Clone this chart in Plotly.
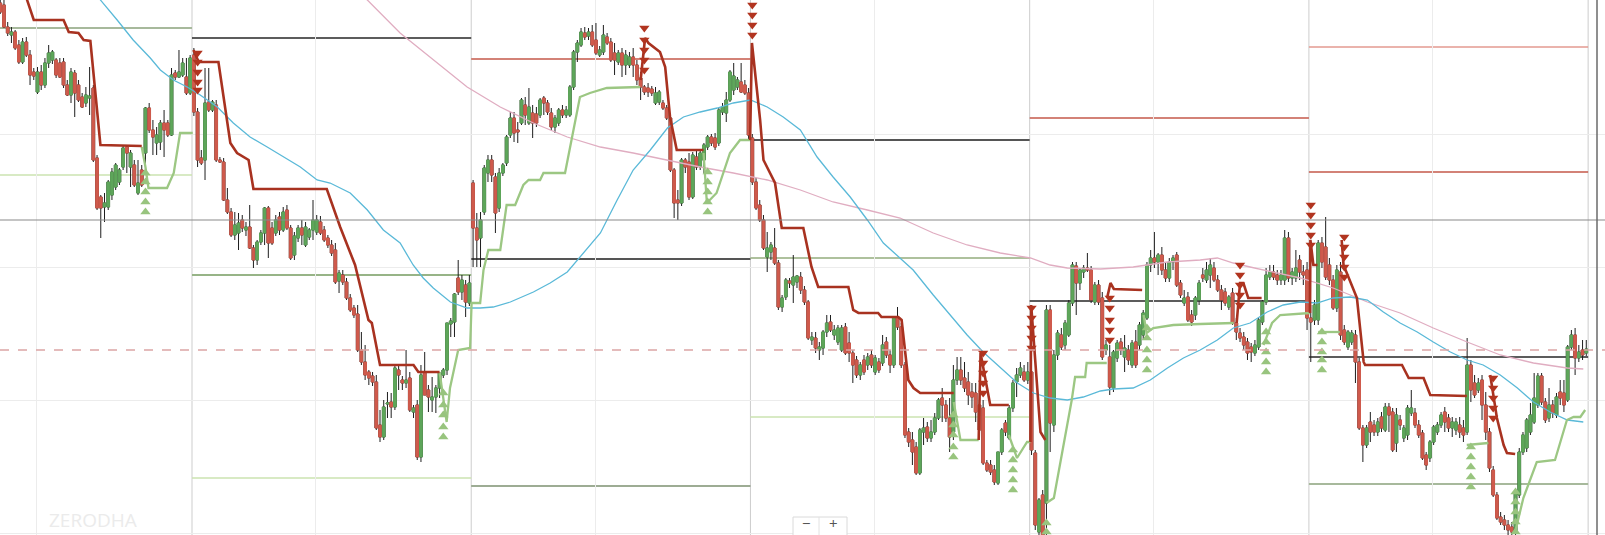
import plotly.graph_objects as go

# ---------------- candles per session: (open, high, low, close) ----------------
day0 = [
 (997,1005,986,988),(995,1003,972,973),(973,978,964,967),(965,973,957,968),(968,970,950,952),
 (955,960,936,938),(938,962,936,958),(958,963,943,945),(945,950,915,925),(928,932,920,924),
 (908,933,906,928),(928,935,910,915),(915,942,912,937),(937,955,932,947),(940,950,936,948),
 (940,942,922,925),(937,942,922,923),(938,942,912,915),(915,920,904,905),(905,932,897,928),
 (927,930,883,907),(915,920,898,900),(903,907,892,893),(897,913,893,905),(902,933,885,904),
 (912,915,838,840),(842,845,790,792),(803,805,762,792),(793,807,778,797),(793,820,790,818),
 (805,832,800,828),(813,837,810,835),(818,832,815,830),(833,855,830,852),(853,855,827,847),
 (833,850,813,847),(835,840,813,815),(807,840,805,817),(830,835,813,815),(847,893,827,892),
 (892,897,867,870),(870,880,845,863),(857,873,845,865),(858,880,850,877),(877,890,843,870),
 (877,880,863,865),(865,932,864,925),(927,930,920,923),(923,950,922,928),(925,942,923,937),
 (923,942,905,907),(907,945,905,942)]
day1 = [
 (945,952,884,888),(888,892,833,840),(842,850,835,837),(840,932,820,897),(898,932,888,890),
 (890,900,888,898),(895,900,838,840),(840,843,837,838),(838,842,799,800),(800,812,786,788),
 (788,792,763,765),(765,788,760,775),(767,787,750,777),(780,785,768,772),(770,778,764,773),
 (773,795,751,752),(752,755,732,740),(740,760,735,758),(758,770,755,767),(767,793,755,792),
 (792,794,742,757),(772,778,755,757),(767,785,764,780),(783,788,765,770),(770,793,768,788),
 (790,795,770,772),(772,775,740,742),(745,768,740,764),(762,775,758,772),(772,780,755,765),
 (755,778,753,773),(763,772,760,770),(770,800,760,780),(768,785,765,780),(778,784,765,767),
 (770,774,758,760),(762,765,752,755),(755,760,744,747),(750,757,716,718),(719,730,707,727),
 (725,730,715,718),(718,722,700,702),(702,706,688,690),(692,695,682,685),(686,695,648,650),
 (650,668,635,638),(638,655,620,625),(628,630,615,622),(624,628,614,618),(618,625,570,572),
 (575,590,558,563),(563,600,560,593),(596,608,582,597),(598,607,582,593),(593,634,590,632),
 (630,634,610,625),(620,624,610,617),(617,650,612,620),(622,628,588,590),(588,595,582,592),
 (595,600,540,543),(543,635,538,625),(628,648,605,605),(610,615,588,603),(600,623,588,603),
 (603,615,587,612),(612,628,602,627),(625,632,622,630),(630,677,625,677),(676,682,663,679),
 (678,707,663,706),(722,740,705,708),(708,725,700,720),(715,720,683,698),(697,725,694,717)]
day2 = [
 (817,820,733,772),(772,787,733,760),(762,788,733,780),(788,835,785,832),(827,845,818,840),
 (840,845,818,825),(823,827,767,787),(792,832,788,827),(827,837,824,835),(837,865,834,863),
 (865,888,862,882),(882,888,858,867),(870,878,857,868),(877,902,875,900),(895,903,875,885),
 (877,912,875,893),(887,895,862,877),(886,893,873,877),(885,902,882,900),(902,904,885,897),
 (897,900,885,888),(887,892,870,873),(873,885,867,882),(877,892,874,890),(890,895,882,885),
 (885,894,882,890),(885,915,883,913),(913,950,910,948),(948,960,938,957),(955,972,953,968),
 (967,973,960,963),(964,972,960,968),(968,975,953,955),(960,977,945,947),(945,954,943,950),
 (948,975,945,965),(963,967,955,957),(958,962,938,940),(947,957,925,940),(938,950,935,947),
 (947,952,923,935),(935,950,925,945),(935,948,932,943),(943,952,923,935),(935,940,915,920),
 (922,928,900,913),(913,915,905,908),(912,917,903,908),(911,914,904,907),(897,913,895,907),
 (898,910,895,908),(897,900,890,892),(892,895,880,882),(882,885,828,830),(830,832,782,797),
 (800,810,780,797),(797,842,794,840),(840,842,827,833),(838,847,800,803),(803,848,801,845),
 (843,850,830,833),(833,850,830,847),(840,857,827,855),(853,865,850,863),(863,866,854,857),
 (862,867,850,853),(857,892,854,890),(888,897,885,893),(887,908,878,900),(900,930,898,928),
 (910,937,905,924),(913,923,910,920),(918,937,907,908),(915,920,905,907),(907,912,860,865)]
day3 = [
 (862,866,815,818),(818,822,790,792),(795,800,778,780),(780,785,750,752),(743,768,728,752),
 (748,758,740,755),(752,772,735,737),(737,740,690,693),(693,705,688,702),(703,722,700,720),
 (719,722,712,717),(715,745,697,723),(718,725,712,724),(723,728,706,710),(710,714,695,698),
 (698,700,660,662),(660,668,655,663),(662,668,647,652),(650,658,640,653),(652,670,645,668),
 (668,685,663,677),(678,685,668,670),(665,675,660,670),(658,675,655,672),(650,675,648,672),
 (673,677,645,647),(657,668,638,647),(647,650,617,635),(640,644,622,625),(625,638,620,635),
 (640,645,625,628),(635,647,630,643),(645,650,632,635),(628,645,625,642),(638,642,627,630),
 (637,665,634,655),(658,663,642,645),(645,650,627,635),(635,682,632,682),(682,693,670,673),
 (673,677,632,635),(635,638,562,565),(568,572,553,558),(560,568,535,548),(553,558,525,527),
 (527,572,525,570),(568,582,555,572),(573,578,558,562),(562,580,558,568),(568,587,565,582),
 (582,602,580,600),(602,612,578,595),(595,600,578,582),(582,602,548,563),(568,635,560,620),
 (620,643,615,630),(630,643,615,620),(622,638,608,612),(618,628,595,605),(608,617,592,603),
 (607,617,578,588),(595,600,568,570),(592,600,535,537),(537,540,528,530),(535,540,525,528),
 (530,535,515,518),(517,548,515,548),(548,572,545,570),(577,580,564,568),(562,595,560,592),
 (592,620,588,617),(618,632,603,625),(625,638,622,632),(628,635,618,620),(620,638,616,628)]
day4 = [
 (628,640,545,550),(547,550,470,475),(468,502,465,500),(505,510,460,465),(497,695,465,690),
 (690,695,548,577),(575,650,568,645),(645,670,640,667),(665,672,650,653),(655,680,650,677),
 (665,700,663,697),(697,738,694,735),(734,738,685,717),(717,732,710,730),(728,735,722,732),
 (732,747,728,730),(730,734,697,700),(698,718,695,715),(715,720,695,698),(702,708,640,643),
 (650,660,645,655),(643,655,605,613),(612,650,608,648),(642,660,638,657),(658,662,645,650),
 (643,665,628,652),(650,655,635,640),(635,660,632,657),(658,670,632,635),(655,678,650,675),
 (665,690,660,687),(682,738,680,735),(735,750,728,742),(742,768,732,738),(738,747,725,745),
 (745,753,725,730),(730,738,718,722),(722,742,718,738),(738,745,730,742),(745,748,713,715),
 (717,720,702,705),(697,710,694,702),(703,708,678,680),(685,690,674,678),(685,704,680,702),
 (700,720,695,717),(725,732,718,722),(720,738,717,730),(725,742,712,735),(732,738,718,720),
 (720,725,708,710),(710,715,690,700),(708,712,694,697),(693,705,690,703),(707,712,675,677),
 (677,682,660,668),(667,672,658,662),(663,668,650,655),(658,662,640,647),(653,657,638,648),
 (647,660,644,655),(653,682,650,680),(678,700,675,698),(698,732,695,725),(723,735,720,728),
 (728,735,720,723),(725,730,715,720),(720,730,715,725),(720,770,715,762),(762,768,718,722),
 (722,732,715,728),(722,750,718,732),(740,745,720,728),(728,735,715,725),(730,738,670,682)]
day5 = [
 (682,695,638,678),(680,700,675,695),(680,760,675,757),(757,763,732,738),(753,783,720,723),
 (735,742,715,720),(720,725,690,692),(692,735,688,730),(728,738,660,665),(670,675,655,658),
 (653,670,650,668),(658,670,655,667),(665,670,617,638),(638,642,570,572),(572,575,538,555),
 (555,575,552,572),(578,588,558,568),(575,580,564,568),(568,582,564,578),(583,588,568,572),
 (570,597,568,593),(593,597,568,585),(588,592,548,550),(557,592,548,585),(580,585,570,575),
 (562,575,558,572),(565,595,560,592),(587,610,584,592),(587,592,572,575),(575,580,562,565),
 (567,570,540,542),(545,548,530,535),(542,560,538,558),(558,575,555,573),(568,578,565,575),
 (575,588,572,585),(588,593,568,578),(582,586,568,572),(572,583,563,578),(570,582,565,578),
 (575,583,562,568),(572,580,558,565),(568,662,565,635),(635,640,598,610),(617,625,602,605),
 (610,622,607,617),(620,625,580,595),(595,608,560,568),(568,572,528,532),(530,534,503,505),
 (505,508,480,482),(483,488,475,478),(480,485,470,475),(475,480,465,470),(473,478,460,468),
 (468,510,460,508),(505,552,502,548),(548,568,545,565),(552,582,548,580),(568,597,565,585),
 (578,627,576,602),(595,627,592,624),(624,627,595,598),(598,602,577,580),(582,612,578,595),
 (595,600,582,587),(585,607,582,603),(608,620,595,602),(607,620,588,595),(600,655,598,653),
 (653,670,650,665),(665,672,625,642),(642,655,638,648),(650,660,640,645),(647,660,644,651)]

# ---------------- indicator lines: (bar index, price) ----------------
sma_fast = [(25.5,1010),(26.9,1000),(31.4,980),(35.7,960),(40.3,942),(43,930),(46.5,920),(50.2,913),
 (53.7,905),(58.3,893),(62.6,877),(67.1,863),(71.7,853),(76,843),(80.6,833),(85.1,820),(88.6,817),
 (94,807),(98.6,790),(102.9,770),(107.4,757),(110.9,735),(113.6,722),(116.3,712),(120.9,698),
 (125.4,692),(128.9,692),(132.4,693),(137,698),(143.2,708),(147.7,717),(152.3,728),(153.9,735),
 (161.2,767),(165.7,800),(170,830),(174.6,850),(179.2,872),(183.5,883),(188,888),(192.6,892),
 (196.9,897),(201.5,900),(206,893),(210.3,883),(214.9,870),(219.4,843),(223.7,823),(228.3,803),
 (232.9,780),(237.2,757),(241.7,742),(245.2,730),(250.6,705),(255.2,685),(259.7,665),(264,648),
 (268.6,632),(273.2,617),(277.5,607),(282,602),(286.6,600),(290.9,603),(295.5,609),(299,611),
 (304.3,612),(308.9,620),(313.5,632),(317.8,642),(322.3,650),(326.9,660),(331.2,672),(335.7,677),
 (340.3,688),(344.6,695),(349.2,698),(353.7,697),(358,702),(362.6,703),(367.2,700),(371.5,688),
 (376,677),(380.6,668),(384.9,658),(389.5,648),(394,640),(398.3,635),(402.9,625),(407.5,612),
 (411.8,598),(416.3,588),(420.9,580),(425.2,578)]
sma_slow = [(95.3,1010),(98.6,1000),(107.4,967),(116.3,940),(125.4,913),(134.3,893),(143.2,877),
 (152.3,863),(161.2,853),(170,847),(179.2,840),(188,833),(196.9,827),(206,820),(214.9,810),
 (223.7,798),(232.9,790),(241.7,782),(250.6,767),(259.7,755),(268.6,747),(276.7,742),(282,735),
 (286.6,732),(295.5,731),(304.3,733),(313.5,738),(322.3,740),(326.9,742),(331.2,737),(335.7,733),
 (349.2,722),(358,712),(367.2,698),(376,687),(384.9,672),(394,658),(402.9,645),(411.8,637),
 (420.9,632),(425.2,631)]

trail_down = [
 [(6.5,1010),(7.2,1000),(9,980),(17,980),(18.4,968),(21,967),(22.4,960),(24.2,959),(26.9,855),(38,854)],
 [(51.9,950),(53.3,938),(58.6,938),(61.8,857),(63.6,847),(66.7,840),(68,811),(87.7,811),(91.3,773),
  (95.3,735),(98.9,680),(99.8,677),(102,635),(111,635),(112.3,628),(118,628)],
 [(172,920),(173.2,962),(174.1,957),(177.2,948),(178.6,933),(179.9,883),(181.7,850),(188.9,850)],
 [(201.4,860),(201.9,957),(204.1,880),(205,840),(208.1,817),(209.9,772),(215.7,772),(217.9,733),
  (219.7,713),(227.8,713),(229.1,690),(230.5,687),(235.8,687),(236.7,683),(241.2,683),(242.1,680),
  (243.9,620),(245.3,612),(247.1,607),(256.1,607)],
 [(262.8,560),(263.3,647),(265.9,595),(270.9,595)],
 [(276.7,558),(276.9,695),(279.4,568),(280.7,560)],
 [(297.3,702),(298.2,717),(299.1,711),(306.7,710)],
 [(332.1,677),(333,717),(333.9,717),(335.2,702),(338.8,702)],
 [(351.8,687),(351.9,760),(352.7,735),(353.8,735)],
 [(360.3,760),(360.8,735),(364.4,702),(366.2,638),(366.6,635),(376.5,635),(378.3,622),(382.3,622),
  (384.1,605),(393.9,604)],
 [(400.2,625),(402,582),(403.8,555),(404.7,547),(406.9,546)]]
trail_up = [
 [(38,853),(39,833),(39.8,812),(44.8,812),(46.6,827),(48.3,867),(51.7,867)],
 [(118,628),(119.9,578),(120.8,612),(123,650),(126.2,652),(126.6,697),(128.9,697),(129.8,730),
  (131.1,750),(134.3,750),(136,795),(138.3,795),(140.5,815),(141.9,820),(145,820),(145.9,827),
  (151.7,827),(155.7,903),(158.4,907),(162.9,912),(171.9,913)],
 [(188.9,847),(189.8,797),(192.4,807),(196,847),(198.7,860),(201.4,860)],
 [(256.1,598),(257.9,560),(262.8,560)],
 [(270.9,565),(273.1,542),(275.8,558),(276.7,558)],
 [(281,497),(283,502),(287.8,600),(288.7,623),(291.4,623),(291.8,637),(297.2,637)],
 [(307.1,685),(307.9,667),(309.7,672),(315.1,675),(322.3,676),(331.3,677)],
 [(339.3,655),(341.6,677),(343.8,685),(351.8,687)],
 [(354,668),(359.8,668)],
 [(393.9,555),(399.7,557)],
 [(406.9,468),(409.1,502),(412.7,538),(417.6,540),(420.8,580),(422.6,583),(424.4,583),(425.7,590)]]

sell_signals = [(53,[947,938,928,918,910]),(173,[972,960,950,940,930]),(202,[995,985,975,965]),
 (264,[647,637,627,617,607]),(277,[692,682,672,662,652]),(298,[702,692,680,670,660]),
 (333,[735,725,715,705,695]),(352,[795,785,775,765,755]),(361,[763,753,743,733,723]),
 (401,[622,612,602,592,582])]
buy_signals = [(39,[827,818,808,798,788]),(119,[607,595,585,573,563]),(190,[828,818,808,798,788]),
 (256,[585,575,565,553,543]),(272,[550,540,530,520,510]),(281,[477,468]),
 (308,[672,662,650,640,630]),(340,[668,658,648,638,628]),(355,[668,658,648,640,630]),
 (395,[553,543,533,523,513]),(407,[508,498,488,478,468])]

# daily reference levels: session number, price, kind
level_session = [0, 0, 1, 1, 1, 2, 2, 2, 3, 3, 3, 4, 4, 5, 5, 5, 5]
level_price = [972, 825, 962, 725, 522, 941, 741, 514, 860, 742, 583, 882, 699, 953, 828, 643, 516]
level_kind = ['s_gray', 's_light', 'pivot', 's_mid', 's_light', 'res', 'pivot_d', 's_dark',
              'pivot_d', 's_olive', 's_light', 'res', 'pivot', 'res_l', 'res', 'pivot', 's_gray']
last_price = 650
cross_price = 780

# ---------------- build ----------------
sessions = [day0, day1, day2, day3, day4, day5]
candles = [c for d in sessions for c in d]
idx = list(range(len(candles)))
opens = [c[0] for c in candles]
highs = [c[1] for c in candles]
lows = [c[2] for c in candles]
closes = [c[3] for c in candles]
body_hi = [max(o, c) for o, c in zip(opens, closes)]
body_lo = [min(o, c) for o, c in zip(opens, closes)]

bounds = [-1.5]
start = 0
for d in sessions:
    start += len(d)
    bounds.append(start - 0.5)

UP = '#5ea65a'
DN = '#cf5a4c'
fig = go.Figure()

# wicks (black) + body underlay
fig.add_trace(go.Candlestick(
    x=idx, open=opens, high=highs, low=lows, close=closes,
    increasing=dict(line=dict(color='#1e1e1e', width=1), fillcolor='#1e1e1e'),
    decreasing=dict(line=dict(color='#1e1e1e', width=1), fillcolor='#1e1e1e'),
    whiskerwidth=0, hoverinfo='skip'))
# coloured bodies
fig.add_trace(go.Candlestick(
    x=idx, open=opens, high=body_hi, low=body_lo, close=closes,
    increasing=dict(line=dict(color=UP, width=1), fillcolor=UP),
    decreasing=dict(line=dict(color=DN, width=1), fillcolor=DN),
    whiskerwidth=0, hoverinfo='skip'))

def add_line(pts, color, width):
    fig.add_trace(go.Scatter(x=[p[0] for p in pts], y=[p[1] for p in pts], mode='lines',
                             line=dict(color=color, width=width), hoverinfo='skip'))

add_line(sma_slow, '#e0adc1', 1.3)
add_line(sma_fast, '#5ab9d8', 1.3)

def add_segments(segs, color, width):
    xs, ys = [], []
    for s in segs:
        xs += [p[0] for p in s] + [None]
        ys += [p[1] for p in s] + [None]
    fig.add_trace(go.Scatter(x=xs, y=ys, mode='lines', line=dict(color=color, width=width),
                             connectgaps=False, hoverinfo='skip'))

add_segments(trail_up, '#9cc783', 2.3)
add_segments(trail_down, '#a83220', 2.6)

def add_signals(sig, symbol, color):
    xs, ys = [], []
    for x, prices in sig:
        for p in prices:
            xs.append(x)
            ys.append(p)
    fig.add_trace(go.Scatter(x=xs, y=ys, mode='markers', hoverinfo='skip',
                             marker=dict(symbol=symbol, size=9, color=color, line=dict(width=0))))

add_signals(buy_signals, 'triangle-up', '#98c47e')
add_signals(sell_signals, 'triangle-down', '#b1341f')

# shapes
kind_style = {'pivot': ('#262626', 1.5), 'pivot_d': ('#555555', 2), 'res': ('#c4584a', 1.5),
              'res_l': ('#e39a90', 1.5), 's_gray': ('#a7b99c', 2), 's_light': ('#cbe3b0', 1.5),
              's_mid': ('#97b487', 2), 's_dark': ('#7d9070', 1.5), 's_olive': ('#93ac7c', 1.5)}
shapes = []
for s, p, k in zip(level_session, level_price, level_kind):
    col, w = kind_style[k]
    shapes.append(dict(type='line', xref='x', yref='y', x0=bounds[s], x1=bounds[s + 1],
                       y0=p, y1=p, line=dict(color=col, width=w), layer='below'))
for b in bounds[1:]:
    shapes.append(dict(type='line', xref='x', yref='paper', x0=b, x1=b, y0=0, y1=1,
                       line=dict(color='#cdcdcd', width=1), layer='below'))
shapes.append(dict(type='line', xref='paper', yref='y', x0=0, x1=1, y0=last_price, y1=last_price,
                   line=dict(color='#dca5a5', width=1.5, dash='dash'), layer='above'))
shapes.append(dict(type='line', xref='paper', yref='y', x0=0, x1=1, y0=cross_price, y1=cross_price,
                   line=dict(color='#8a8a8a', width=1.2), layer='above'))
shapes.append(dict(type='line', xref='paper', yref='paper', x0=1597/1605, x1=1597/1605, y0=0, y1=1,
                   line=dict(color='#6a6a6a', width=1.5), layer='above'))
# zoom buttons box
shapes.append(dict(type='rect', xref='paper', yref='paper', x0=793/1605, x1=847/1605,
                   y0=-0.02, y1=1 - 517/535, fillcolor='white', line=dict(color='#dadada', width=1),
                   layer='above'))
shapes.append(dict(type='line', xref='paper', yref='paper', x0=819/1605, x1=819/1605,
                   y0=0, y1=1 - 517/535, line=dict(color='#e2e2e2', width=1), layer='above'))

annotations = [
    dict(text='ZERODHA', xref='paper', yref='paper', x=48/1605, y=0.002, xanchor='left',
         yanchor='bottom', showarrow=False, borderpad=0,
         font=dict(family='Open Sans', size=19, color='#ebebeb')),
    dict(text='−', xref='paper', yref='paper', x=806/1605, y=0.002, xanchor='center',
         yanchor='bottom', showarrow=False, borderpad=0,
         font=dict(family='Open Sans', size=15, color='#555')),
    dict(text='+', xref='paper', yref='paper', x=833/1605, y=0.002, xanchor='center',
         yanchor='bottom', showarrow=False, borderpad=0,
         font=dict(family='Open Sans', size=15, color='#555')),
]

fig.update_layout(
    width=1605, height=535, autosize=False,
    margin=dict(l=0, r=0, t=0, b=0, pad=0),
    paper_bgcolor='white', plot_bgcolor='white',
    showlegend=False, hovermode=False,
    boxgap=0.15, boxgroupgap=0.15, boxmode='overlay',
    shapes=shapes, annotations=annotations,
    xaxis=dict(range=[-0.07, 431.03], showticklabels=False, showgrid=True, gridcolor='#ececec',
               tick0=9.8, dtick=75, zeroline=False, showline=False, rangeslider=dict(visible=False),
               fixedrange=True),
    yaxis=dict(range=[465, 1000], showticklabels=False, showgrid=True, gridcolor='#ececec',
               tick0=467, dtick=133, zeroline=False, showline=False, fixedrange=True),
)

fig.write_html("out.html", config={'displayModeBar': False},
               post_script="document.body.style.margin='0';document.body.style.overflow='hidden';")
